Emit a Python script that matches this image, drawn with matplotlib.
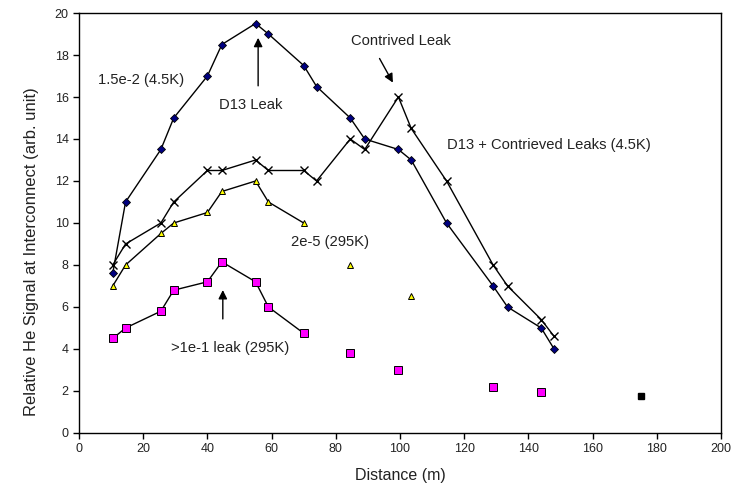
import numpy as np
import matplotlib
matplotlib.use("Agg")
import matplotlib.pyplot as plt

plt.rcParams['font.family'] = ['Liberation Sans', 'DejaVu Sans']

# 1.5e-2 (4.5K) -- D13 leak
d13_x = [10.5, 14.5, 25.5, 29.5, 40, 44.5, 55, 59, 70, 74, 84.5, 89, 99.5, 103.5, 114.5, 129, 133.5, 144, 148]
d13_y = [7.6, 11, 13.5, 15, 17, 18.5, 19.5, 19, 17.5, 16.5, 15, 14, 13.5, 13, 10, 7, 6, 5, 4]

# D13 + contrieved leaks (4.5K)
both_x = [10.5, 14.5, 25.5, 29.5, 40, 44.5, 55, 59, 70, 74, 84.5, 89, 99.5, 103.5, 114.5, 129, 133.5, 144, 148]
both_y = [8, 9, 10, 11, 12.5, 12.5, 13, 12.5, 12.5, 12, 14, 13.5, 16, 14.5, 12, 8, 7, 5.4, 4.6]

# 2e-5 (295K): joined points, then loose points
warm_x = [10.5, 14.5, 25.5, 29.5, 40, 44.5, 55, 59, 70]
warm_y = [7, 8, 9.5, 10, 10.5, 11.5, 12, 11, 10]
warm_x2 = [84.5, 103.5]
warm_y2 = [8, 6.5]

# >1e-1 leak (295K)
big_x = [10.5, 14.5, 25.5, 29.5, 40, 44.5, 55, 59, 70]
big_y = [4.5, 5, 5.8, 6.8, 7.2, 8.15, 7.2, 6, 4.75]
big_x2 = [84.5, 99.5, 129, 144]
big_y2 = [3.8, 3, 2.2, 1.95]

# background point
bg_x = [175]
bg_y = [1.75]

fig = plt.figure(figsize=(7.44, 4.87), dpi=100)
ax = fig.add_axes([0.1062, 0.1109, 0.8629, 0.8624])

ax.plot(d13_x, d13_y, '-', color='black', lw=1.0, marker='D', ms=3.8,
        mfc='#000080', mec='black', mew=0.6)
ax.plot(both_x, both_y, '-', color='black', lw=1.0, marker='x', ms=6,
        mec='black', mew=1.0)
ax.plot(warm_x, warm_y, '-', color='black', lw=1.0, marker='^', ms=4.5,
        mfc='#ffff00', mec='black', mew=0.7)
ax.plot(warm_x2, warm_y2, ' ', marker='^', ms=4.5,
        mfc='#ffff00', mec='black', mew=0.7)
ax.plot(big_x, big_y, '-', color='black', lw=1.0, marker='s', ms=5.5,
        mfc='#ff00ff', mec='black', mew=0.7)
ax.plot(big_x2, big_y2, ' ', marker='s', ms=5.5,
        mfc='#ff00ff', mec='black', mew=0.7)
ax.plot(bg_x, bg_y, ' ', marker='s', ms=4.5, mfc='black', mec='black')

fs = 10.6
arrow = dict(arrowstyle='-|>', color='black', lw=1.0, mutation_scale=13)
ax.text(6, 16.8, '1.5e-2 (4.5K)', fontsize=fs, va='center', color='#222222')
ax.text(43.5, 15.6, 'D13 Leak', fontsize=fs, va='center', color='#222222')
ax.annotate('', xy=(55.8, 18.95), xytext=(55.8, 16.4), arrowprops=arrow)
ax.text(84.6, 18.65, 'Contrived Leak', fontsize=fs, va='center', color='#222222')
ax.annotate('', xy=(98.2, 16.57), xytext=(93.2, 17.95), arrowprops=arrow)
ax.text(114.5, 13.7, 'D13 + Contrieved Leaks (4.5K)', fontsize=fs, va='center', color='#222222')
ax.text(66, 9.1, '2e-5 (295K)', fontsize=fs, va='center', color='#222222')
ax.text(28.6, 4.03, '>1e-1 leak (295K)', fontsize=fs, va='center', color='#222222')
ax.annotate('', xy=(44.8, 6.94), xytext=(44.8, 5.3), arrowprops=arrow)

ax.set_xlim(0, 200)
ax.set_ylim(0, 20)
ax.set_xticks(np.arange(0, 201, 20))
ax.set_yticks(np.arange(0, 21, 2))
ax.tick_params(direction='out', length=4, width=1, labelsize=9, colors='black',
               labelcolor='#222222')
for s in ax.spines.values():
    s.set_linewidth(1.0)

ax.set_xlabel('Distance (m)', fontsize=11.5, color='#222222')
ax.set_ylabel('Relative He Signal at Interconnect (arb. unit)', fontsize=12,
              color='#222222')
ax.xaxis.set_label_coords(0.5, -0.083)
ax.yaxis.set_label_coords(-0.063, 0.431)

fig.savefig('out.png', dpi=100)
